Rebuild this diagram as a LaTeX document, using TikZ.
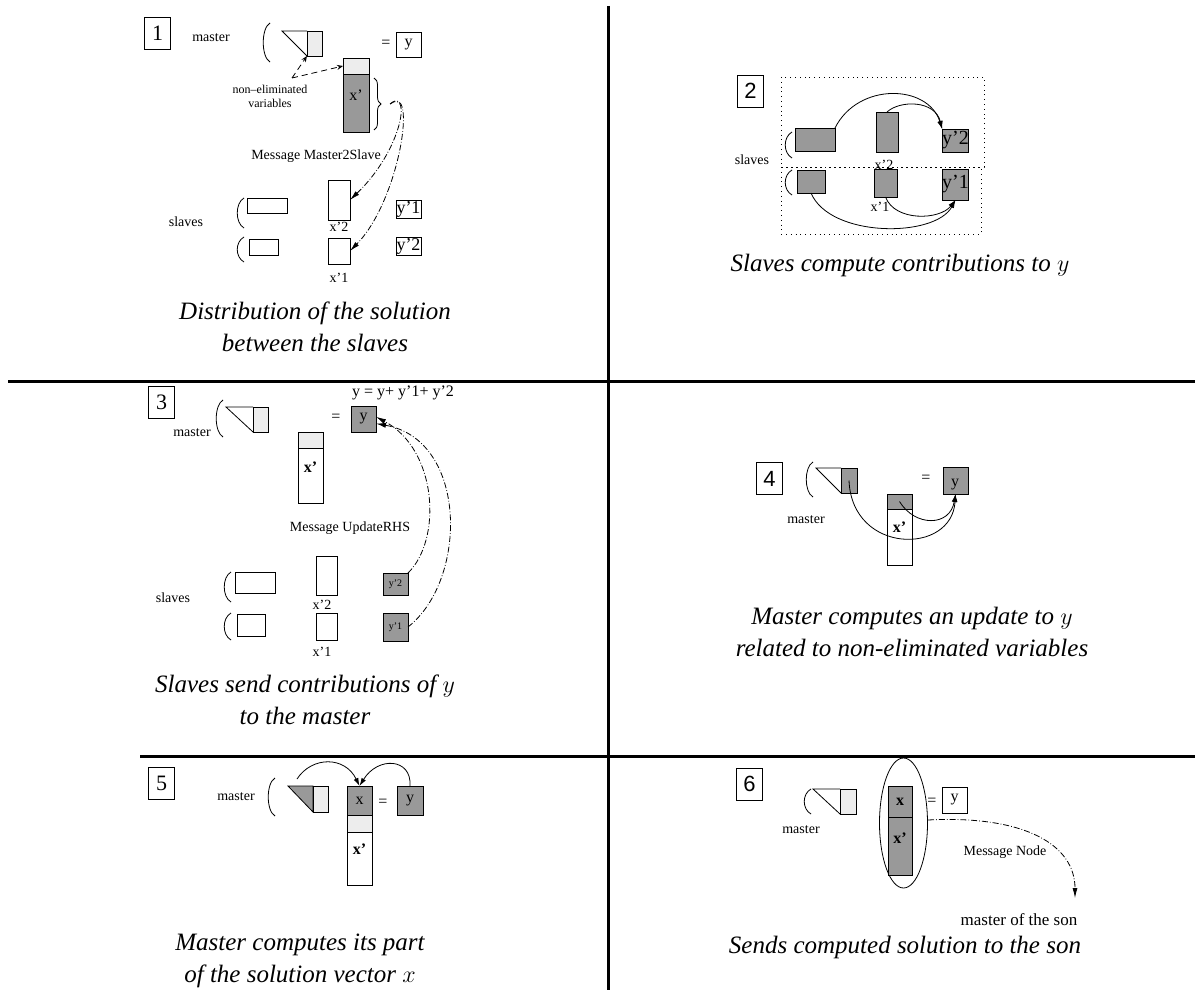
\documentclass[tikz,border=0pt]{standalone}
\usepackage{fontspec}
\setmainfont{Liberation Serif}
\newfontfamily\numfont{Liberation Sans}
\usetikzlibrary{arrows.meta,decorations.pathreplacing}
\definecolor{darkfill}{gray}{0.6}
\definecolor{lightfill}{gray}{0.93}
\tikzset{
    box/.style={draw, inner sep=0pt, outer sep=0pt},
    dark/.style={box, fill=darkfill},
    light/.style={box, fill=lightfill},
    wh/.style 2 args={minimum width=#1*0.5pt, minimum height=#2*0.5pt},
    numbox/.style={box, wh={26}{32}, font=\fontsize{11}{12}\selectfont},
    lbl/.style={inner sep=0pt, font=\fontsize{7}{8.5}\selectfont},
    tinylbl/.style={inner sep=0pt, align=center, font=\fontsize{6}{7}\selectfont},
    ylbl/.style={font=\fontsize{8}{9}\selectfont},
    caption/.style={align=center, inner sep=0pt, font=\fontsize{12.5}{16}\selectfont\itshape},
    divider/.style={line width=1.5pt},
    msgarrow/.style={densely dash dot, -{Latex[length=5pt,width=2.5pt]}},
    noticearrow/.style={densely dashed, -{Stealth[open,length=3pt,width=2.5pt]}},
    calcarrow/.style={-{Latex[length=4pt,width=2.5pt]}},
}
\begin{document}
\begin{tikzpicture}[x=0.5pt, y=-0.5pt]
    \useasboundingbox (0,0) rectangle (1195,990);
    \draw[divider] (608,6) -- (608,990);
    \draw[divider] (8,381) -- (1195,381);
    \draw[divider] (140,756) -- (1195,756);

    % left brackets of the systems
    \foreach \x/\a/\b in {262/23/62, 236/198/228, 236/237/262, 784/132/158, 784/170/195,
        215/400/437, 223/572/602, 223/613/640, 805/462/497, 267/778/816, 803/789/814}
    {
        \draw (\x+8,\a) .. controls (\x-1,\a+5) and (\x-1,\b-5) .. (\x+8,\b);
    }

    % 1
    \node[numbox] (n1) at (157.5,33.5) {1};
    \node[lbl] (m1) at (211,38) {master};
    \draw (307,31) -- (282,31) -- (307,56);
    \node[light, wh={15}{25}] (l1) at (314.5,43.5) {};
    \node[ylbl] (eq1) at (386,44) {=};
    \node[box, wh={25}{25}, ylbl] (y1) at (408.5,44.5) {y};
    \node[light, wh={26}{16}] (xa1) at (356,66) {};
    \node[dark, wh={26}{58}] (xb1) at (356,103) {};
    \node[ylbl, inner sep=0pt] (xl1) at (356,95) {x'};
    \draw[decorate, decoration={brace, amplitude=3.5pt}] (374,78) -- (374,130);
    \coordinate (br1) at (390,104);
    \node[tinylbl] (ne1) at (270,96) {non--eliminated\\variables};
    \coordinate (ne1t) at (292,78);
    \draw[noticearrow] (ne1t) -- (l1.south west);
    \draw[noticearrow] (ne1t) -- (xa1.west);
    \node[lbl] (msg1) at (316,156) {Message Master2Slave};
    \node[lbl] (sl1) at (186,222) {slaves};
    \node[box, wh={40}{15}] (sa1) at (267,205.5) {};
    \node[box, wh={22}{40}] (sx2) at (339,200) {};
    \node[lbl] (sx2l) at (339,227) {x'2};
    \node[box, wh={25}{18}, font=\fontsize{9}{10}\selectfont] (sy1) at (408.5,209) {y'1};
    \node[box, wh={29}{16}] (sb1) at (263.5,247) {};
    \node[box, wh={22}{26}] (sx1) at (339,251) {};
    \node[lbl] (sx1l) at (339,278) {x'1};
    \node[box, wh={25}{18}, font=\fontsize{9}{10}\selectfont] (sy2) at (408.5,246) {y'2};
    \draw[msgarrow] (br1) .. controls (412,88) and (402,150) .. (sx2.east);
    \draw[msgarrow] (br1) .. controls (418,80) and (400,200) .. (sx1.east);
    \node[caption] (cap1) at (315,327) {Distribution of the solution\\between the slaves};

    % 2
    \node[numbox, font=\numfont\fontsize{11}{12}\selectfont] (n2) at (750.5,91) {2};
    \draw[dotted] (781,77) rectangle (984,167);
    \draw[dotted] (781,167) rectangle (981,234);
    \node[lbl] (sl2) at (752,160) {slaves};
    \node[dark, wh={40}{23}] (sa2) at (815,139.5) {};
    \node[dark, wh={22}{40}] (sx22) at (887,132) {};
    \node[lbl] (sx22l) at (884,165) {x'2};
    \node[dark, wh={25}{23}, font=\fontsize{10}{11}\selectfont] (sy22) at (955.5,140.5) {y'2};
    \node[dark, wh={28}{23}] (sb2) at (811,181.5) {};
    \node[dark, wh={23}{28}] (sx21) at (885.5,183) {};
    \node[lbl] (sx21l) at (880,207) {x'1};
    \node[dark, wh={25}{31}, font=\fontsize{10}{11}\selectfont] (sy21) at (955.5,184.5) {y'1};
    \draw[calcarrow] (sa2.north east) .. controls (858,82) and (928,84) .. (sy22.north west);
    \draw[calcarrow] (sx22.north) .. controls (900,100) and (935,100) .. (sy22.north west);
    \draw[calcarrow] (sb2.south) .. controls (830,238) and (935,238) .. (sy21.south);
    \draw[calcarrow] (sx21.south) .. controls (895,222) and (940,220) .. (sy21.south);
    \node[caption] (cap2) at (900,265) {Slaves compute contributions to $y$};

    % 3
    \node[numbox] (n3) at (161.5,402) {3};
    \node[ylbl] (upd3) at (403,393) {y = y+ y'1+ y'2};
    \node[lbl] (m3) at (192,433) {master};
    \draw (253,407) -- (226,407) -- (253,432);
    \node[light, wh={15}{25}] (l3) at (260.5,419.5) {};
    \node[ylbl] (eq3) at (336,418) {=};
    \node[dark, wh={25}{26}, ylbl] (y3) at (363.5,419) {y};
    \node[light, wh={25}{16}] (xa3) at (310.5,440) {};
    \node[box, wh={25}{55}] (xb3) at (310.5,475.5) {};
    \node[ylbl, font=\fontsize{8}{9}\selectfont\bfseries] (xl3) at (310.5,467) {x'};
    \node[lbl] (msg3) at (350,528) {Message UpdateRHS};
    \node[lbl] (sl3) at (173,598) {slaves};
    \node[box, wh={40}{21}] (sa3) at (255,582.5) {};
    \node[box, wh={21}{39}] (sx32) at (326.5,575.5) {};
    \node[lbl] (sx32l) at (322,605) {x'2};
    \node[dark, wh={25}{22}, font=\fontsize{5}{6}\selectfont] (sy32) at (395.5,584) {y'2};
    \node[box, wh={28}{22}] (sb3) at (251,625) {};
    \node[box, wh={21}{27}] (sx31) at (326.5,626.5) {};
    \node[lbl] (sx31l) at (322,652) {x'1};
    \node[dark, wh={25}{28}, font=\fontsize{5}{6}\selectfont] (sy31) at (395.5,627) {y'1};
    \draw[msgarrow] (sy32.north east) .. controls (442,540) and (438,450) .. (y3.10);
    \draw[msgarrow] (sy31.east) .. controls (468,580) and (468,440) .. (y3.-20);
    \node[caption] (cap3) at (305,700) {Slaves send contributions of $y$\\to the master};

    % 4
    \node[numbox, font=\numfont\fontsize{11}{12}\selectfont] (n4) at (769.5,478.5) {4};
    \draw (841,468) -- (816,468) -- (841,493);
    \node[dark, wh={16}{25}] (d4) at (849,480.5) {};
    \node[lbl] (m4) at (806,520) {master};
    \node[ylbl] (eq4) at (926,479) {=};
    \node[dark, wh={25}{27}] (y4) at (955.5,480.5) {};
    \node[ylbl, inner sep=0pt] (y4l) at (955,485) {y};
    \node[dark, wh={25}{15}] (xa4) at (899.5,501.5) {};
    \node[box, wh={25}{56}] (xb4) at (899.5,537) {};
    \node[ylbl, font=\fontsize{8}{9}\selectfont\bfseries] (xl4) at (899.5,527) {x'};
    \draw[calcarrow] (d4.center) .. controls (852,555) and (952,555) .. (y4.south);
    \draw[calcarrow] (xa4.center) .. controls (915,527) and (950,527) .. (y4.south);
    \node[caption] (cap4) at (912,632) {Master computes an update to $y$\\related to non-eliminated variables};

    % 5
    \node[numbox] (n5) at (161.5,783) {5};
    \node[lbl] (m5) at (236,797) {master};
    \filldraw[fill=darkfill] (288,786) -- (313,786) -- (313,812) -- cycle;
    \node[light, wh={15}{26}] (l5) at (320.5,799) {};
    \node[dark, wh={25}{29}, ylbl] (xa5) at (359.5,800.5) {x};
    \node[light, wh={25}{17}] (xb5) at (359.5,823.5) {};
    \node[box, wh={25}{53}] (xc5) at (359.5,858.5) {};
    \node[ylbl, font=\fontsize{8}{9}\selectfont\bfseries] (xl5) at (359.5,849) {x'};
    \node[ylbl] (eq5) at (383,803) {=};
    \node[dark, wh={26}{29}, ylbl] (y5) at (410,800.5) {y};
    \coordinate (t5) at (297,779);
    \draw[calcarrow] (t5) .. controls (312,756) and (345,756) .. (xa5.north);
    \draw[calcarrow] (y5.north) .. controls (412,758) and (378,756) .. (xa5.north);
    \node[caption] (cap5) at (300,961) {Master computes its part\\of the solution vector $x$};

    % 6
    \node[numbox, font=\numfont\fontsize{11}{12}\selectfont] (n6) at (749.5,784) {6};
    \draw (840,789) -- (813,789) -- (840,814);
    \node[light, wh={16}{25}] (l6) at (848,801.5) {};
    \node[lbl] (m6) at (801,830) {master};
    \coordinate (e6) at (903.5,823);
    \draw (e6) ellipse [x radius=24, y radius=65];
    \node[dark, wh={24}{31}, font=\fontsize{8}{9}\selectfont\bfseries] (xa6) at (900,801.5) {x};
    \node[dark, wh={24}{58}] (xb6) at (900,846) {};
    \node[ylbl, font=\fontsize{8}{9}\selectfont\bfseries] (xl6) at (900,838) {x'};
    \node[ylbl] (eq6) at (932,802) {=};
    \node[box, wh={25}{26}, ylbl] (y6) at (954.5,800) {y};
    \coordinate (m6s) at (928,820);
    \coordinate (m6e) at (1075,898);
    \draw[msgarrow] (m6s) .. controls (1025,815) and (1075,845) .. (m6e);
    \node[lbl] (msg6) at (1005,852) {Message Node};
    \node[lbl, font=\fontsize{8.5}{10}\selectfont] (son6) at (1019,920) {master of the son};
    \node[caption] (cap6) at (905,947) {Sends computed solution to the son};
\end{tikzpicture}
\end{document}
